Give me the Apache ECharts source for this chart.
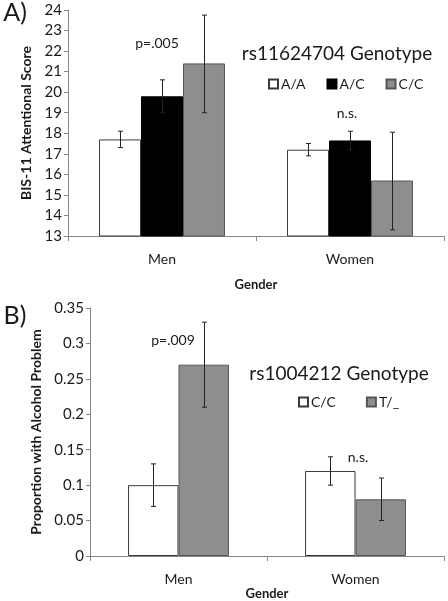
<!DOCTYPE html>
<html><head><meta charset="utf-8">
<script src="https://cdn.jsdelivr.net/npm/echarts@6/dist/echarts.min.js"></script>
<style>html,body{margin:0;padding:0;background:#fff}#c{width:448px;height:601px}</style>
</head><body><div id="c"></div>
<script>
var categories = ['Men', 'Women'];
// Panel A
var genotypesA = ['A/A', 'A/C', 'C/C'];
var meansA = [[17.7, 17.2], [19.8, 17.65], [21.4, 15.7]];
var lowA = [[17.3, 16.9], [19.0, 17.2], [19.0, 13.3]];
var highA = [[18.1, 17.5], [20.6, 18.1], [23.75, 18.05]];
var yTicksA = {min: 13, max: 24, interval: 1};
// Panel B
var genotypesB = ['C/C', 'T/_'];
var meansB = [[0.10, 0.12], [0.27, 0.08]];
var lowB = [[0.07, 0.10], [0.21, 0.05]];
var highB = [[0.13, 0.14], [0.33, 0.11]];
var yTicksB = {min: 0, max: 0.35, interval: 0.05};

var FONT = 'Lato';
var TXT = '#1a1a1a';
var AX = '#868686';
var fillsA = [
  {color: '#ffffff', borderColor: '#3a3a3a', borderWidth: 1},
  {color: '#000000', borderColor: '#000000', borderWidth: 1},
  {color: '#8e8e8e', borderColor: '#555555', borderWidth: 1}
];
var fillsB = [
  {color: '#ffffff', borderColor: '#3a3a3a', borderWidth: 1},
  {color: '#8e8e8e', borderColor: '#555555', borderWidth: 1}
];
var gapA = 0.33, gapB = 0.43;

function errRender(n, gapFrac) {
  return function (params, api) {
    var cat = api.value(0), lo = api.value(1), hi = api.value(2), idx = api.value(3);
    var band = api.size([1, 0])[0];
    var total = band * (1 - gapFrac), bw = total / n;
    var p1 = api.coord([cat, lo]), p2 = api.coord([cat, hi]);
    var cx = Math.round(p1[0] - total / 2 + (idx + 0.5) * bw) + 0.5;
    var cap = 2.5;
    var st = {stroke: '#222', lineWidth: 1};
    return {type: 'group', children: [
      {type: 'line', shape: {x1: cx, y1: p1[1], x2: cx, y2: p2[1]}, style: st},
      {type: 'line', shape: {x1: cx - cap, y1: p1[1], x2: cx + cap, y2: p1[1]}, style: st},
      {type: 'line', shape: {x1: cx - cap, y1: p2[1], x2: cx + cap, y2: p2[1]}, style: st}
    ]};
  };
}

var series = [];
genotypesA.forEach(function (g, i) {
  series.push({type: 'bar', name: 'A:' + g, xAxisIndex: 0, yAxisIndex: 0, data: meansA[i],
    barGap: '0%', barCategoryGap: (gapA * 100) + '%', itemStyle: fillsA[i], silent: true, z: 2});
});
genotypesB.forEach(function (g, i) {
  series.push({type: 'bar', name: 'B:' + g, xAxisIndex: 1, yAxisIndex: 1, data: meansB[i],
    barGap: '0%', barCategoryGap: (gapB * 100) + '%', itemStyle: fillsB[i], silent: true, z: 2});
});
var errA = [], errB = [];
genotypesA.forEach(function (g, i) { categories.forEach(function (c, j) { errA.push([j, lowA[i][j], highA[i][j], i]); }); });
genotypesB.forEach(function (g, i) { categories.forEach(function (c, j) { errB.push([j, lowB[i][j], highB[i][j], i]); }); });
series.push({type: 'custom', xAxisIndex: 0, yAxisIndex: 0, data: errA, renderItem: errRender(3, gapA), z: 5, silent: true});
series.push({type: 'custom', xAxisIndex: 1, yAxisIndex: 1, data: errB, renderItem: errRender(2, gapB), z: 5, silent: true});

function xAx(idx, gap) {
  return {type: 'category', gridIndex: idx, data: categories,
    axisLine: {lineStyle: {color: AX}}, axisTick: {show: true, length: 5, lineStyle: {color: AX}},
    axisLabel: {color: TXT, fontFamily: FONT, fontSize: 14, margin: 16},
    name: 'Gender', nameLocation: 'middle', nameGap: gap,
    nameTextStyle: {color: TXT, fontFamily: FONT, fontSize: 13, fontWeight: 'bold'}};
}
function yAx(idx, t, name, gap) {
  return {type: 'value', gridIndex: idx, min: t.min, max: t.max, interval: t.interval,
    axisLine: {show: true, lineStyle: {color: AX}}, axisTick: {show: true, length: 4, lineStyle: {color: AX}},
    splitLine: {show: false},
    axisLabel: {color: TXT, fontFamily: FONT, fontSize: 15, margin: 6},
    name: name, nameLocation: 'middle', nameGap: gap,
    nameTextStyle: {color: TXT, fontFamily: FONT, fontSize: 14, fontWeight: 'bold'}};
}
function txt(x, y, s, size, bold) {
  return {type: 'text', x: x, y: y, style: {text: s, fill: TXT, font: (bold ? 'bold ' : '') + size + 'px ' + FONT, textAlign: 'center', textVerticalAlign: 'middle'}};
}

var chart = echarts.init(document.getElementById('c'), null, {renderer: 'canvas'});
chart.setOption({
  animation: false,
  backgroundColor: '#fff',
  grid: [
    {left: 68, top: 10, right: 4, height: 226},
    {left: 90, top: 308, right: 4, height: 248}
  ],
  xAxis: [xAx(0, 42), xAx(1, 30)],
  yAxis: [yAx(0, yTicksA, 'BIS-11 Attentional Score', 34), yAx(1, yTicksB, 'Proportion with Alcohol Problem', 40)],
  legend: [
    {data: genotypesA.map(function (g) { return 'A:' + g; }), left: 263, top: 72, itemWidth: 9, itemHeight: 9, itemGap: 21, icon: 'rect',
      formatter: function (n) { return n.slice(2); }, selectedMode: false,
      textStyle: {color: TXT, fontFamily: FONT, fontSize: 14, padding: [0, 0, 0, -2]}},
    {data: genotypesB.map(function (g) { return 'B:' + g; }), left: 293, top: 390, itemWidth: 9, itemHeight: 9, itemGap: 30, icon: 'rect',
      formatter: function (n) { return n.slice(2); }, selectedMode: false,
      textStyle: {color: TXT, fontFamily: FONT, fontSize: 14, padding: [0, 0, 0, -2]}}
  ],
  graphic: [
    txt(15, 13, 'A)', 25, false),
    txt(157, 43, 'p=.005', 14, false),
    txt(337, 54, 'rs11624704 Genotype', 19, false),
    txt(347, 113, 'n.s.', 14, false),
    txt(15, 316, 'B)', 25, false),
    txt(173, 340, 'p=.009', 14, false),
    txt(339, 374, 'rs1004212 Genotype', 19, false),
    txt(358, 457, 'n.s.', 14, false)
  ],
  series: series
});
</script></body></html>
